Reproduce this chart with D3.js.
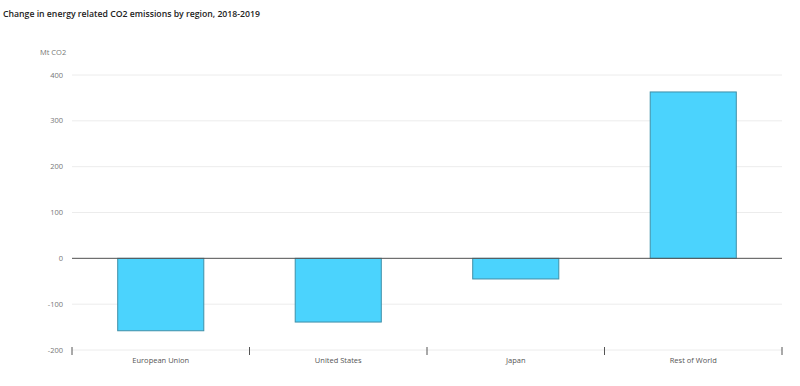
<!DOCTYPE html>
<meta charset="utf-8">
<script src="https://d3js.org/d3.v7.min.js"></script>
<style>
body { margin: 0; background: #fff; font-family: "Open Sans", sans-serif; }
.grid line { stroke: #ececec; }
</style>
<div id="chart"></div>
<script>
// data (Mt CO2)
var regions = ["European Union", "United States", "Japan", "Rest of World"];
var change = [-158, -139, -45, 363];
var yTicks = [-200, -100, 0, 100, 200, 300, 400];

var W = 800, H = 386;
var margin = {top: 75, right: 18, bottom: 36, left: 72},
    width = W - margin.left - margin.right,
    height = H - margin.top - margin.bottom;

var svg = d3.select("#chart").append("svg")
    .attr("width", W).attr("height", H);

svg.append("text")
  .attr("x", 3).attr("y", 17)
  .style("font-size", "8.7px").style("font-weight", 600).style("fill", "#222")
  .text("Change in energy related CO2 emissions by region, 2018-2019");

svg.append("text")
  .attr("x", 40).attr("y", 55)
  .style("font-size", "7.5px").style("fill", "#777")
  .text("Mt CO2");

var g = svg.append("g")
  .attr("transform", "translate(" + margin.left + "," + margin.top + ")");

var x = d3.scaleBand().domain(regions).range([0, width]).paddingInner(0.515).paddingOuter(0.2575);
var y = d3.scaleLinear().domain([-200, 400]).range([height, 0]);

// gridlines
g.append("g").attr("class", "grid")
  .selectAll("line").data(yTicks).enter().append("line")
    .attr("x1", 0).attr("x2", width)
    .attr("y1", function(d) { return y(d); })
    .attr("y2", function(d) { return y(d); });

// y labels
g.append("g").selectAll("text").data(yTicks).enter().append("text")
  .attr("x", -9).attr("y", function(d) { return y(d); })
  .attr("dy", "0.35em").attr("text-anchor", "end")
  .style("font-size", "7.5px").style("fill", "#777")
  .text(function(d) { return d; });

// bars
g.selectAll("rect.bar").data(change).enter().append("rect")
  .attr("class", "bar")
  .attr("x", function(d, i) { return x(regions[i]); })
  .attr("width", x.bandwidth())
  .attr("y", function(d) { return y(Math.max(0, d)); })
  .attr("height", function(d) { return Math.abs(y(d) - y(0)); })
  .style("fill", "#4bd3fd").style("stroke", "#3f8fa8").style("stroke-width", 1);

// zero line
g.append("line")
  .attr("x1", 0).attr("x2", width)
  .attr("y1", y(0)).attr("y2", y(0))
  .style("stroke", "#555").style("stroke-width", 1);

// x axis ticks at band edges
var edges = d3.range(regions.length + 1).map(function(i) { return i * width / regions.length; });
g.append("g").selectAll("line").data(edges).enter().append("line")
  .attr("x1", function(d) { return d; }).attr("x2", function(d) { return d; })
  .attr("y1", height - 3).attr("y2", height + 5)
  .style("stroke", "#555");

g.append("g").selectAll("text").data(regions).enter().append("text")
  .attr("x", function(d) { return x(d) + x.bandwidth() / 2; })
  .attr("y", height + 13)
  .attr("text-anchor", "middle")
  .style("font-size", "7.5px").style("fill", "#555")
  .text(function(d) { return d; });
</script>
